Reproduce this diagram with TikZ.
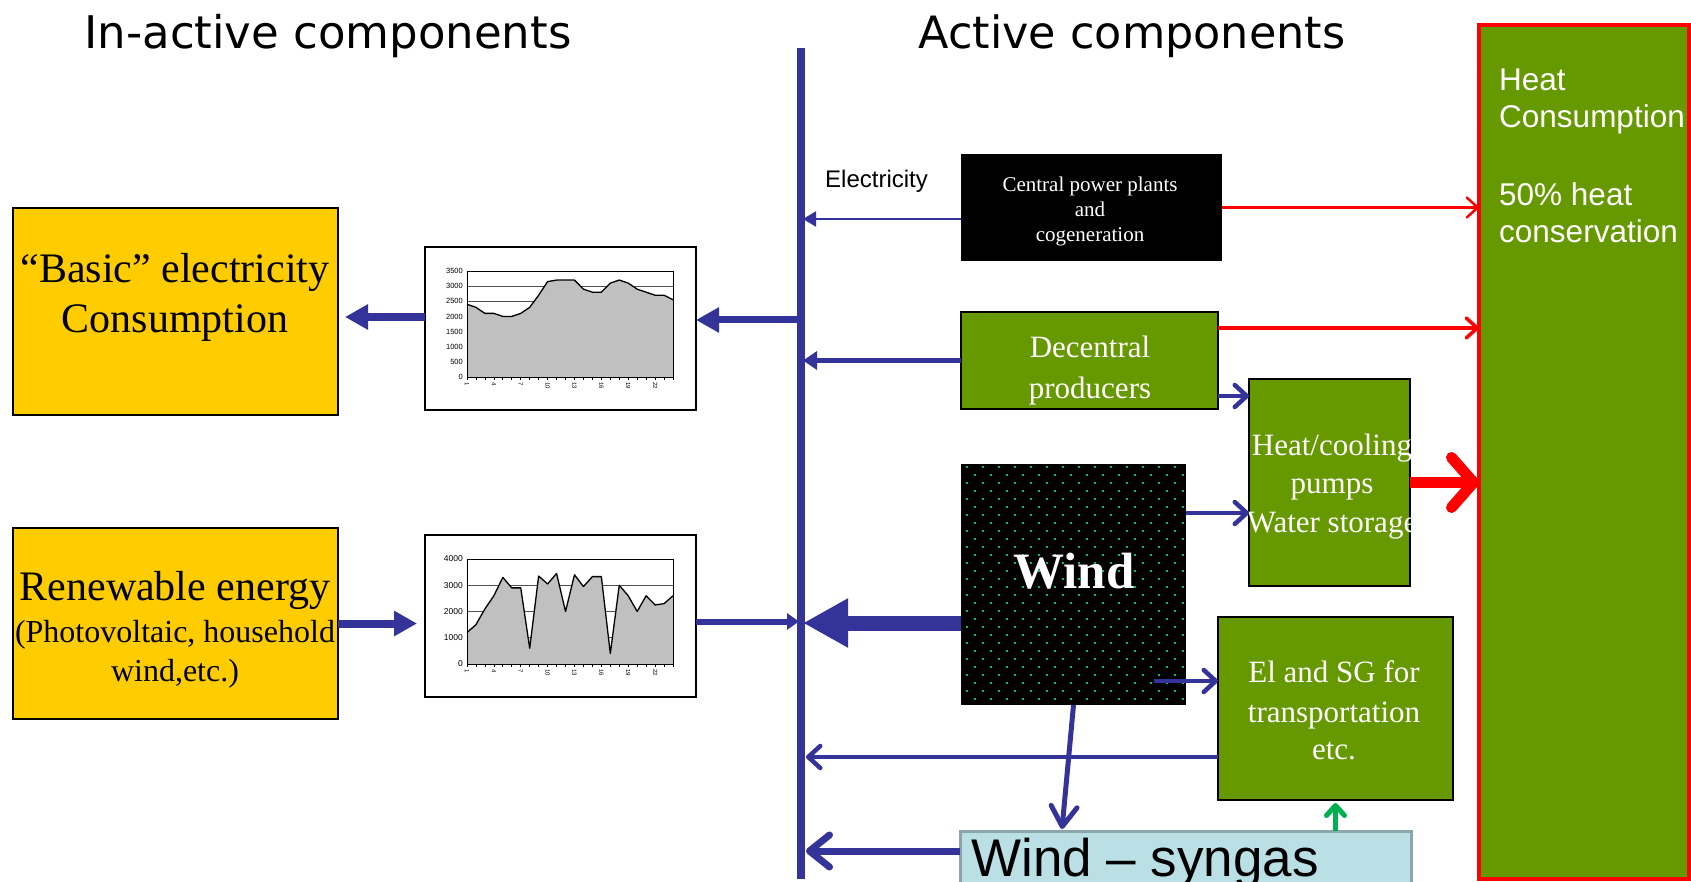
\documentclass[tikz,border=0pt]{standalone}
\usepackage{fontspec}
\setmainfont{Liberation Serif}
\setsansfont{Liberation Sans}
\newfontfamily\headfont{DejaVu Sans}
\usetikzlibrary{arrows.meta}
\definecolor{flowblue}{RGB}{51,51,153}
\definecolor{leaf}{RGB}{102,153,0}
\definecolor{gold}{RGB}{255,204,0}
\definecolor{dotgreen}{RGB}{0,190,110}
\definecolor{gasfill}{RGB}{186,223,228}
\definecolor{gasedge}{RGB}{138,166,170}
\definecolor{areagray}{RGB}{192,192,192}
\definecolor{gridgray}{RGB}{80,80,80}
\definecolor{upgreen}{RGB}{0,176,80}
\newcommand\fsz[2]{\fontsize{#1}{#2}\selectfont}
% hourly load profiles (24 values each)
\def\loadA{2400,2300,2100,2100,2000,2000,2100,2300,2700,3150,3200,3200,3200,2900,2800,2800,3100,3200,3100,2900,2800,2700,2700,2550}
\def\loadB{1200,1500,2100,2600,3300,2900,2900,600,3350,3050,3450,2000,3400,2950,3330,3330,400,3000,2600,2000,2600,2250,2300,2600}

\begin{document}
\begin{tikzpicture}[x=1pt,y=-1pt,
  panel/.style={draw=black,line width=2pt,inner sep=0pt,outer sep=0pt,anchor=north west},
  chartbox/.style={draw=black,line width=1.5pt,fill=white,inner sep=0pt,outer sep=0pt,anchor=north west},
  serifline/.style={anchor=base,inner sep=0pt},
  wtext/.style={serifline,text=white,font=\fsz{31}{36}},
  sansline/.style={anchor=base west,inner sep=0pt,text=white,font=\sffamily\fsz{31.5}{36}},
  ytick/.style={anchor=east,inner sep=0pt,font=\sffamily\fsz{7.5}{8}},
  xtick/.style={anchor=west,inner sep=0pt,rotate=-90,font=\sffamily\fsz{6}{7}},
  fatarrow/.style={draw=flowblue,line width=8pt,-{Triangle[length=23pt,width=24pt]}},
  midarrow/.style={draw=flowblue,line width=5pt,-{Triangle[length=14pt,width=18pt]}},
  thinarrow/.style={draw=flowblue,line width=2pt,-{Triangle[length=13pt,width=15pt]}},
  hugearrow/.style={draw=flowblue,line width=15pt,-{Triangle[length=45pt,width=46pt]}},
  barb/.style={draw=flowblue,line width=4.5pt,-{Straight Barb[length=12pt,width=22pt,round]}},
  redbarb/.style={draw=red,-{Straight Barb[length=11pt,width=20pt,round]}},
]
\useasboundingbox (0,0) rectangle (1691,882);
\clip (0,0) rectangle (1691,882);

% headings
\node[anchor=base,inner sep=0pt,font=\headfont\fsz{45}{50}] (hInactive) at (328,49) {In-active components};
\node[anchor=base,inner sep=0pt,font=\headfont\fsz{44.5}{50}] (hActive) at (1132,49) {Active components};

% electricity bus
\coordinate (busT) at (801,48);
\coordinate (busB) at (801,879);
\draw[flowblue,line width=8pt] (busT) -- (busB);
\node[anchor=base west,inner sep=0pt,font=\sffamily\fsz{24}{28}] (elec) at (825,188) {Electricity};

% in-active side
\node[panel,fill=gold,minimum width=325pt,minimum height=207pt] (basic) at (13,208) {};
\node[serifline,font=\fsz{42}{50}] (basicA) at (175,283) {“Basic” electricity};
\node[serifline,font=\fsz{42}{50}] (basicB) at (175,333) {Consumption};

\node[panel,fill=gold,minimum width=325pt,minimum height=191pt] (ren) at (13,528) {};
\node[serifline,font=\fsz{42}{50}] (renA) at (175,600) {Renewable energy};
\node[serifline,font=\fsz{32}{38}] (renB) at (175,642) {(Photovoltaic, household};
\node[serifline,font=\fsz{32}{38}] (renC) at (175,681) {wind,etc.)};

% consumption profile chart
\node[chartbox,minimum width=271pt,minimum height=163pt] (c1) at (425,247) {};
\foreach \g in {500,1000,...,3000}
  \draw[gridgray,line width=0.8pt] (467,{377-\g*0.0302857}) -- (673,{377-\g*0.0302857});
\fill[areagray] (467,377) \foreach \v [count=\i from 0] in \loadA { -- ({467+\i*8.9565},{377-\v*0.0302857}) } -- (673,377) -- cycle;
\draw[line width=1.3pt,line join=round] (467,{377-2400*0.0302857}) \foreach \v [count=\i from 0] in \loadA { -- ({467+\i*8.9565},{377-\v*0.0302857}) };
\draw[line width=0.9pt] (467,271) rectangle (673,377);
\foreach \i in {0,...,23} \draw[line width=0.7pt] ({467+\i*8.9565},377) -- ++(0,3);
\foreach \g in {0,500,...,3500}
  \node[ytick] (ya\g) at (463,{377-\g*0.0302857}) {\g};
\foreach \k in {1,4,...,22}
  \node[xtick] (xa\k) at ({467+(\k-1)*8.9565},382) {\k};

% renewable production chart
\node[chartbox,minimum width=271pt,minimum height=162pt] (c2) at (425,535) {};
\foreach \g in {1000,2000,3000}
  \draw[gridgray,line width=0.8pt] (467,{664-\g*0.02625}) -- (673,{664-\g*0.02625});
\fill[areagray] (467,664) \foreach \v [count=\i from 0] in \loadB { -- ({467+\i*8.9565},{664-\v*0.02625}) } -- (673,664) -- cycle;
\draw[line width=1.3pt,line join=round] (467,{664-1200*0.02625}) \foreach \v [count=\i from 0] in \loadB { -- ({467+\i*8.9565},{664-\v*0.02625}) };
\draw[line width=0.9pt] (467,559) rectangle (673,664);
\foreach \i in {0,...,23} \draw[line width=0.7pt] ({467+\i*8.9565},664) -- ++(0,3);
\foreach \g in {0,1000,...,4000}
  \node[ytick,font=\sffamily\fsz{8.5}{9}] (yb\g) at (463,{664-\g*0.02625}) {\g};
\foreach \k in {1,4,...,22}
  \node[xtick] (xb\k) at ({467+(\k-1)*8.9565},669) {\k};

% active side: producers
\node[panel,draw=none,fill=black,minimum width=261pt,minimum height=107pt] (central) at (961,154) {};
\node[serifline,text=white,font=\fsz{21}{24}] (centralA) at (1090,192) {Central power plants};
\node[serifline,text=white,font=\fsz{21}{24}] (centralB) at (1090,217) {and};
\node[serifline,text=white,font=\fsz{21}{24}] (centralC) at (1090,242) {cogeneration};

\node[panel,fill=leaf,minimum width=257pt,minimum height=97pt] (dec) at (961,312) {};
\node[wtext] (decA) at (1090,357) {Decentral};
\node[wtext] (decB) at (1090,398) {producers};

\node[panel,fill=leaf,minimum width=161pt,minimum height=207pt] (hc) at (1249,379) {};
\node[wtext] (hcA) at (1332,455) {Heat/cooling};
\node[wtext] (hcB) at (1332,493) {pumps};
\node[wtext] (hcC) at (1332,532) {Water storage};

\node[panel,draw=none,fill=black,minimum width=225pt,minimum height=241pt] (wind) at (961,464) {};
\foreach \r in {0,...,29}{
  \pgfmathsetmacro\dy{467+8*\r}
  \pgfmathsetmacro\dx{mod(\r,2)*8}
  \foreach \c in {0,...,13}
    \fill[dotgreen] ({966+\dx+16*\c},{\dy-1}) rectangle ++(2,2);
}
\node[serifline,text=white,font=\bfseries\fsz{51}{56}] (windT) at (1074,588) {Wind};

\node[panel,fill=leaf,minimum width=235pt,minimum height=183pt] (el) at (1218,617) {};
\node[wtext] (elA) at (1334,682) {El and SG for};
\node[wtext] (elB) at (1334,722) {transportation};
\node[wtext] (elC) at (1334,759) {etc.};

\node[panel,draw=gasedge,line width=3pt,fill=gasfill,minimum width=451pt,minimum height=60pt] (gas) at (960,831) {};
\node[anchor=base west,inner sep=0pt,font=\sffamily\fsz{53}{60}] (gasT) at (971,876) {Wind – syngas};

\node[panel,draw=red,line width=4pt,fill=leaf,minimum width=210pt,minimum height=854pt] (heat) at (1479,25) {};
\node[sansline] (heatA) at (1499,91) {Heat};
\node[sansline] (heatB) at (1499,128) {Consumption};
\node[sansline] (heatC) at (1499,206) {50\% heat};
\node[sansline] (heatD) at (1499,243) {conservation};

% electricity flows
\draw[fatarrow,shorten >=7pt] ([yshift=11.5pt]c1.west) -- ([yshift=11.5pt]c1.west -| basic.east);
\draw[fatarrow,line width=7pt] ([yshift=8.5pt]c1.east -| busT) -- ([yshift=8.5pt]c1.east);
\draw[fatarrow,shorten >=8pt] (ren.east) -- (ren.east -| c2.west);
\draw[draw=flowblue,line width=6pt,-{Triangle[length=12pt,width=16pt]},shorten >=2pt] ([yshift=-5.5pt]c2.east) -- ([yshift=-5.5pt]c2.east -| busT);
\draw[thinarrow,shorten >=2pt] ([yshift=-11.5pt]central.west) -- ([yshift=-11.5pt]central.west -| busT);
\draw[midarrow,shorten >=2pt] (dec.west) -- (dec.west -| busT);
\draw[hugearrow,shorten >=2pt] ([yshift=-38.5pt]wind.west) -- ([yshift=-38.5pt]wind.west -| busT);
\draw[barb,shorten >=5pt] ([yshift=-48.5pt]el.west) -- ([yshift=-48.5pt]el.west -| busT);
\draw[barb,line width=7pt,-{Straight Barb[length=20pt,width=32pt,round]},shorten >=5pt] ([yshift=10pt]gas.west) -- ([yshift=10pt]gas.west -| busT);

% flows between active components
\coordinate (gasIn) at (1062,829);
\coordinate (windEl) at (1154,681);
\draw[barb,line width=5pt,-{Straight Barb[length=20pt,width=26pt,round]}] (wind.south) -- (gasIn);
\draw[barb] ([yshift=-35.5pt]dec.east) -- ([yshift=-35.5pt]dec.east -| hc.west);
\draw[barb] ([yshift=71.5pt]wind.east) -- ([yshift=71.5pt]wind.east -| hc.west);
\draw[barb] (windEl) -- (windEl -| el.west);
\draw[barb,draw=upgreen,line width=5pt,-{Straight Barb[length=10pt,width=18pt,round]},shorten >=3pt] (el.south |- gas.north) -- (el.south);

% heat flows
\draw[redbarb,line width=2.5pt] (central.east) -- (central.east -| heat.west);
\draw[redbarb,line width=3.5pt] ([yshift=32.5pt]dec.east) -- ([yshift=32.5pt]dec.east -| heat.west);
\draw[redbarb,line width=11pt,-{Straight Barb[length=22pt,width=50pt,round]}] (hc.east) -- (hc.east -| heat.west);
\end{tikzpicture}
\end{document}
